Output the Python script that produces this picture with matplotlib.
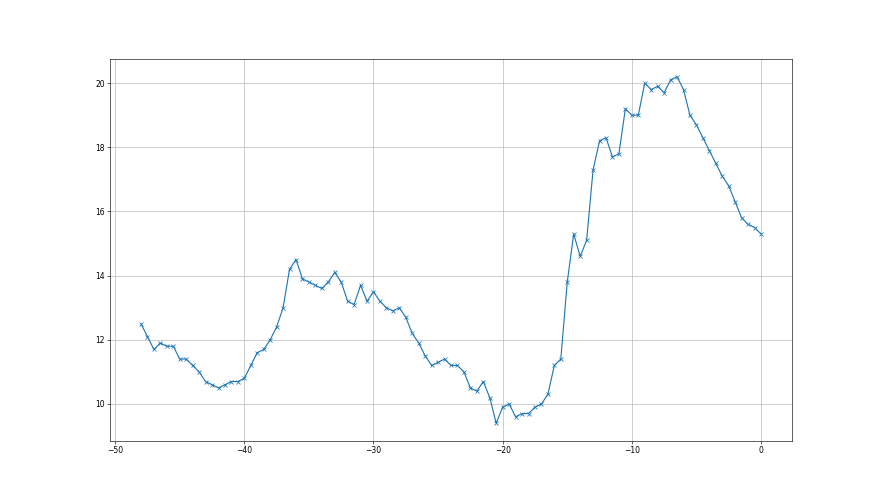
import numpy as np
import matplotlib
matplotlib.use("Agg")
import matplotlib.pyplot as plt

# time offsets, step 0.5
offsets = [-48 + 0.5 * i for i in range(97)]

values = [
    12.5, 12.1, 11.7, 11.9, 11.8, 11.8, 11.4, 11.4, 11.2, 11.0,
    10.7, 10.6, 10.5, 10.6, 10.7, 10.7, 10.8, 11.2, 11.6, 11.7,
    12.0, 12.4, 13.0, 14.2, 14.5, 13.9, 13.8, 13.7, 13.6, 13.8,
    14.1, 13.8, 13.2, 13.1, 13.7, 13.2, 13.5, 13.2, 13.0, 12.9,
    13.0, 12.7, 12.2, 11.9, 11.5, 11.2, 11.3, 11.4, 11.2, 11.2,
    11.0, 10.5, 10.4, 10.7, 10.2, 9.4, 9.9, 10.0, 9.6, 9.7,
    9.7, 9.9, 10.0, 10.3, 11.2, 11.4, 13.8, 15.3, 14.6, 15.1,
    17.3, 18.2, 18.3, 17.7, 17.8, 19.2, 19.0, 19.0, 20.0, 19.8,
    19.9, 19.7, 20.1, 20.2, 19.8, 19.0, 18.7, 18.3, 17.9, 17.5,
    17.1, 16.8, 16.3, 15.8, 15.6, 15.5, 15.3,
]

fig = plt.figure(figsize=(16, 9), dpi=55)
ax = fig.add_subplot(111)
ax.plot(offsets, values, marker='x', color='#1f77b4', linewidth=1.5, markersize=6)
ax.grid(True, color='#b0b0b0', linewidth=0.8)
ax.tick_params(labelsize=10)

fig.savefig("out.png", dpi=55)
